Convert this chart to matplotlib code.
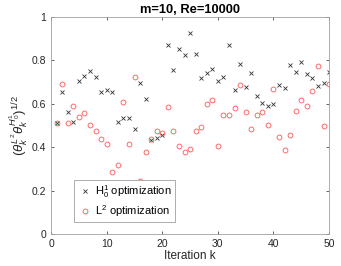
import numpy as np
import matplotlib
matplotlib.use('Agg')
from matplotlib import pyplot as plt

plt.rcParams['font.family'] = ['Liberation Sans', 'DejaVu Sans']
plt.rcParams['mathtext.fontset'] = 'custom'
plt.rcParams['mathtext.rm'] = 'Liberation Sans'
plt.rcParams['mathtext.it'] = 'Liberation Sans:italic'

iterations = np.arange(1, 51)

h1_values = [0.510, 0.656, 0.561, 0.515, 0.707, 0.728, 0.750, 0.722, 0.656, 0.664,
             0.654, 0.515, 0.533, 0.535, 0.485, 0.696, 0.622, 0.433, 0.444, 0.456,
             0.871, 0.756, 0.851, 0.826, 0.926, 0.831, 0.719, 0.740, 0.760, 0.705,
             0.722, 0.869, 0.665, 0.783, 0.676, 0.742, 0.634, 0.604, 0.588, 0.598,
             0.685, 0.671, 0.780, 0.747, 0.791, 0.736, 0.719, 0.682, 0.696, 0.747]

l2_values = [0.510, 0.693, 0.513, 0.591, 0.541, 0.559, 0.503, 0.475, 0.436, 0.415,
             0.286, 0.320, 0.608, 0.415, 0.725, 0.246, 0.376, 0.438, 0.475, 0.467,
             0.587, 0.475, 0.407, 0.378, 0.392, 0.475, 0.495, 0.598, 0.619, 0.407,
             0.548, 0.547, 0.579, 0.687, 0.561, 0.485, 0.547, 0.562, 0.504, 0.668,
             0.445, 0.386, 0.458, 0.568, 0.619, 0.590, 0.657, 0.774, 0.498, 0.693]

fig = plt.figure(figsize=(3.41, 2.66), dpi=100)
ax = fig.add_axes([0.150, 0.120, 0.815, 0.816])

ax.plot(iterations, h1_values, 'x', color='#333333', markersize=2.5, markeredgewidth=0.6,
        label=r'H$^1_0$ optimization')
ax.plot(iterations, l2_values, 'o', color='#ff5555', markerfacecolor='none', markersize=3.5,
        markeredgewidth=0.6, label=r'L$^2$ optimization')

ax.set_xlim(0, 50)
ax.set_ylim(0, 1)
ax.set_xticks([0, 10, 20, 30, 40, 50])
ax.set_yticks([0, 0.2, 0.4, 0.6, 0.8, 1])
ax.set_yticklabels(['0', '0.2', '0.4', '0.6', '0.8', '1'])
ax.tick_params(direction='in', length=2.5, width=0.5, labelsize=7.5, colors='#262626',
               top=True, right=True)
for s in ax.spines.values():
    s.set_color('#a0a0a0')
    s.set_linewidth(0.6)

ax.set_xlabel('Iteration k', fontsize=8.5, labelpad=1, color='#262626')
ax.set_ylabel(r'$(\theta_k^{L^2}\theta_k^{H^1_0})^{1/2}$', fontsize=9.5, labelpad=1, color='#262626')
ax.set_title('m=10, Re=10000', fontsize=9.3, fontweight='bold', pad=3)

leg = ax.legend(loc='lower left', bbox_to_anchor=(0.083, 0.055), borderaxespad=0, fontsize=8,
                fancybox=False, edgecolor='#a0a0a0', framealpha=1, handletextpad=0.3,
                borderpad=0.3, labelspacing=0.3, handlelength=1.3)
leg.get_frame().set_linewidth(0.6)

plt.savefig('out.png', dpi=100)
plt.close()
